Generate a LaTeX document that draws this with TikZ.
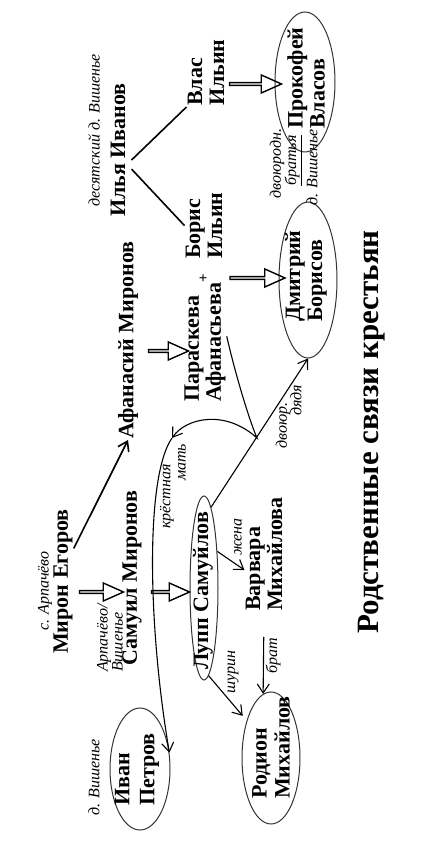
\documentclass[tikz,border=0pt]{standalone}
\usepackage{fontspec}
\setmainfont{Liberation Serif}
\usetikzlibrary{arrows.meta, shapes.geometric, shapes.arrows, calc}

\newcommand\namefont{\fontsize{22}{22}\selectfont\bfseries}
\newcommand\notefont{\fontsize{16}{15}\selectfont\itshape}
\newcommand\titlefont{\fontsize{31}{31}\selectfont\bfseries}

\begin{document}
\begin{tikzpicture}[
    x=1pt, y=1pt, rotate=90, transform shape,
    >={Straight Barb[length=9pt, width=12pt]},
    person/.style={font=\namefont, align=left, anchor=west, inner sep=1pt},
    note/.style={font=\notefont, align=left, anchor=west, inner sep=1pt},
    oval/.style={draw=black!80, line width=1pt, ellipse, inner sep=0pt},
    fat/.style={single arrow, draw, line width=1.4pt, shape border rotate=270,
                single arrow head extend=4pt, single arrow tip angle=48,
                minimum width=18pt, inner sep=0pt},
    link/.style={line width=1.6pt},
    kin/.style={->, line width=1.1pt}
  ]
  \useasboundingbox (0,-439) rectangle (847,0);

  % Vishenye: Ilya Ivanov and his sons
  \node[note] (desyat) at (639,-94) {десятский д. Вишенье};
  \node[person] (ilya) at (629,-118) {Илья Иванов};
  \node[person] (vlas) at (740,-206) {Влас\\Ильин};
  \node[person] (boris) at (587,-204) {Борис\\Ильин};
  \node[font=\fontsize{15}{15}\selectfont\bfseries, inner sep=1pt] (plus) at (569,-204) {+};
  \draw[link] ([xshift=-10pt,yshift=-5pt]ilya.south) -- (vlas.north west);
  \draw[link] ([xshift=-19pt,yshift=-5pt]ilya.south) -- (boris.north);

  % Miron Egorov's line
  \node[note] (arpachevo) at (215,-45) {с. Арпачёво};
  \node[person] (miron) at (192,-63) {Мирон Егоров};
  \node[person] (afanasy) at (407,-128) {Афанасий Миронов};
  \node[person] (paraskeva) at (444,-205) {Параскева\\Афанасьева};
  \node[note] (arpvish) at (174,-110) {Арпачёво/\\Вишенье};
  \node[person] (samuil) at (180,-132) {Самуил Миронов};
  \draw[kin, line width=1.6pt] (miron.-18) -- (afanasy.west);

  % circled people
  \node[oval, minimum width=184pt, minimum height=28pt] (lupp) at (259,-204) {};
  \node[person, anchor=center] (lupptext) at (256,-203) {Лупп Самуйлов};
  \node[oval, minimum width=122pt, minimum height=60pt] (ivan) at (78,-140) {};
  \node[person, font=\fontsize{22}{25}\selectfont\bfseries] (ivantext) at (40,-137) {Иван\\Петров};
  \node[note] (vish1) at (30,-94) {д. Вишенье};
  \node[oval, minimum width=132pt, minimum height=58pt] (rodion) at (89,-271) {};
  \node[person, font=\fontsize{22}{23}\selectfont\bfseries] (rodiontext) at (47,-271) {Родион\\Михайлов};
  \node[oval, minimum width=156pt, minimum height=58pt] (dmitry) at (567,-308) {};
  \node[person] (dmitrytext) at (524,-306) {Дмитрий\\Борисов};
  \node[oval, minimum width=140pt, minimum height=60pt] (prok) at (765,-305) {};
  \node[person] (proktext) at (717,-306) {Прокофей\\Власов};
  \node[person] (varvara) at (235,-264) {Варвара\\Михайлова};

  % hollow arrows: parent -> child
  \foreach \id/\x/\y/\len in {a1/763/-254/52, a2/569/-256/55, a3/496/-167/40,
                              a4/255/-100/44, a5/255/-169/38}
    \node[fat, minimum height=\len pt] (\id) at (\x,\y) {};

  % relations
  \draw[kin] (lupp.-5) -- (dmitry.west);
  \draw[kin] (lupp.-20) -- ([xshift=-16pt]varvara.north);
  \draw[kin, shorten >=6pt] (lupp.183) -- (rodion.33);
  \draw[kin, shorten <=25pt] (varvara.west) -- (rodion.7);
  \coordinate (touch) at (409,-257);
  \coordinate (turn) at (409,-172);
  \draw[kin] ([xshift=6pt]paraskeva.south) .. controls (470,-236) and (425,-250) .. (touch)
    .. controls (438,-225) and (429,-186) .. (turn);
  \draw[kin] (turn) .. controls (370,-145) and (220,-148) .. (ivan.-61);

  % labels on the relations
  \node[note] (krest) at (317,-167) {крёстная};
  \node[note] (mat) at (365,-182) {мать};
  \node[note] (dvoyur) at (397,-283) {двоюр.};
  \node[note] (dyadya) at (430,-296) {дядя};
  \node[note] (zhena) at (290,-238) {жена};
  \node[note] (shurin) at (152,-233) {шурин};
  \node[note] (brat) at (172,-273) {брат};
  \node[note] (cousins) at (647,-277) {двоюродн.};
  \node[note] (bratya) at (660,-293) {\underline{братья}};
  \node[note] (vish2) at (640,-312) {д. Вишенье};

  \node[font=\titlefont] (title) at (415,-372) {Родственные связи крестьян};
\end{tikzpicture}
\end{document}
